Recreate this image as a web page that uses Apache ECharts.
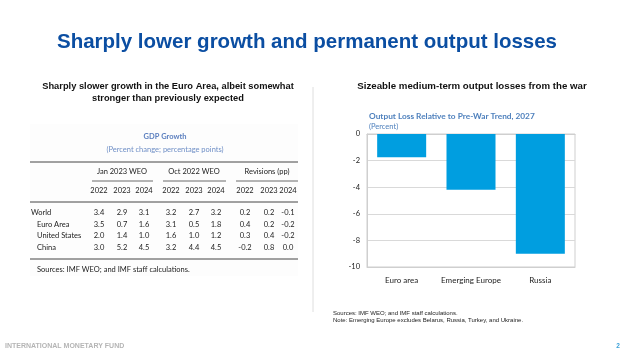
<!DOCTYPE html>
<html>
<head>
<meta charset="utf-8">
<script src="https://cdn.jsdelivr.net/npm/echarts@6/dist/echarts.min.js"></script>
<style>
  html, body { margin: 0; padding: 0; background: #fff; }
  #chart { width: 624px; height: 351px; }
</style>
</head>
<body>
<div id="chart"></div>
<script>
// bar chart data
const categories = ['Euro area', 'Emerging Europe', 'Russia'];
const outputLoss = [-1.75, -4.2, -9.0];

// GDP growth table
const tableGroups = ['Jan 2023 WEO', 'Oct 2022 WEO', 'Revisions (pp)'];
const tableYears = ['2022', '2023', '2024'];
const tableRows = ['World', 'Euro Area', 'United States', 'China'];
const janWeo = [[3.4, 2.9, 3.1], [3.5, 0.7, 1.6], [2.0, 1.4, 1.0], [3.0, 5.2, 4.5]];
const octWeo = [[3.2, 2.7, 3.2], [3.1, 0.5, 1.8], [1.6, 1.0, 1.2], [3.2, 4.4, 4.5]];
const revisions = [[0.2, 0.2, -0.1], [0.4, 0.2, -0.2], [0.3, 0.4, -0.2], [-0.2, 0.8, 0.0]];

const chart = echarts.init(document.getElementById('chart'));

const tableFont = 'Lato, "Open Sans", sans-serif';
const arial = '"Liberation Sans", Arial, sans-serif';
const colX = [99, 122, 144, 171, 194, 216, 245, 269, 288];
const groupX = [122, 194, 267];
const groupLine = [[92, 153], [163, 226], [236, 298]];
const rowY = [213, 224.5, 236, 247.5];

const txt = (x, y, text, style) => ({
  type: 'text', x: x, y: y, silent: true,
  style: Object.assign({ text: text, fontFamily: tableFont, fontSize: 7.5, fill: '#222',
    align: 'center', verticalAlign: 'middle' }, style || {})
});
const hline = (x1, x2, y, w) => ({
  type: 'line', silent: true,
  shape: { x1: x1, y1: y, x2: x2, y2: y },
  style: { stroke: '#444', lineWidth: w || 1 }
});

const g = [];
// table background
g.push({ type: 'rect', silent: true, shape: { x: 30, y: 124, width: 268, height: 152 },
  style: { fill: '#fdfdfd' } });
g.push(txt(165, 137, 'GDP Growth', { fill: '#5b7fbf', fontWeight: 'bold' }));
g.push(txt(165, 149.5, '(Percent change; percentage points)', { fill: '#6f8fc6' }));
g.push(hline(30, 298, 162, 1));
tableGroups.forEach((t, i) => {
  g.push(txt(groupX[i], 172, t));
  g.push(hline(groupLine[i][0], groupLine[i][1], 181, 0.8));
  tableYears.forEach((y, j) => g.push(txt(colX[i * 3 + j], 191, y)));
});
g.push(hline(30, 298, 202, 1));
tableRows.forEach((r, i) => {
  g.push(txt(i === 0 ? 31 : 37, rowY[i], r, { align: 'left' }));
  [janWeo, octWeo, revisions].forEach((arr, k) => {
    arr[i].forEach((v, j) => g.push(txt(colX[k * 3 + j], rowY[i], v.toFixed(1))));
  });
});
g.push(hline(30, 298, 259, 1));
g.push(txt(37, 270, 'Sources: IMF WEO; and IMF staff calculations.', { align: 'left' }));

// separator
g.push({ type: 'line', silent: true, shape: { x1: 313, y1: 87, x2: 313, y2: 312 },
  style: { stroke: '#dedede', lineWidth: 1 } });

// headings
g.push({ type: 'text', x: 307, y: 42, silent: true,
  style: { text: 'Sharply lower growth and permanent output losses', fontFamily: arial,
    fontSize: 20.5, fontWeight: 'bold', fill: '#0b4ea2', align: 'center', verticalAlign: 'middle' } });
g.push({ type: 'text', x: 168, y: 92, silent: true,
  style: { text: 'Sharply slower growth in the Euro Area, albeit somewhat\nstronger than previously expected',
    fontFamily: arial, fontSize: 9.3, fontWeight: 'bold', fill: '#111',
    align: 'center', verticalAlign: 'middle', lineHeight: 12 } });
g.push({ type: 'text', x: 472, y: 86, silent: true,
  style: { text: 'Sizeable medium-term output losses from the war',
    fontFamily: arial, fontSize: 9.7, fontWeight: 'bold', fill: '#111',
    align: 'center', verticalAlign: 'middle' } });

// chart title
g.push({ type: 'text', x: 369, y: 116, silent: true,
  style: { text: 'Output Loss Relative to Pre-War Trend, 2027', fontFamily: tableFont,
    fontSize: 8.3, fontWeight: 'bold', fill: '#4f81bd', verticalAlign: 'middle' } });
g.push({ type: 'text', x: 369, y: 127, silent: true,
  style: { text: '(Percent)', fontFamily: tableFont, fontSize: 7.5, fill: '#4f81bd', verticalAlign: 'middle' } });

// footnotes
g.push({ type: 'text', x: 333, y: 317, silent: true,
  style: { text: 'Sources: IMF WEO; and IMF staff calculations.\nNote: Emerging Europe excludes Belarus, Russia, Turkey, and Ukraine.',
    fontFamily: arial, fontSize: 6, fill: '#222', verticalAlign: 'middle', lineHeight: 7.5 } });
g.push({ type: 'text', x: 5, y: 346, silent: true,
  style: { text: 'INTERNATIONAL MONETARY FUND', fontFamily: arial,
    fontSize: 7, fontWeight: 'bold', fill: '#b5b5b5', verticalAlign: 'middle' } });
g.push({ type: 'text', x: 618, y: 346, silent: true,
  style: { text: '2', fontFamily: arial,
    fontSize: 6.5, fontWeight: 'bold', fill: '#3aa0d8', align: 'center', verticalAlign: 'middle' } });

chart.setOption({
  animation: false,
  grid: { left: 367, top: 134, width: 208, height: 133, show: true, borderColor: '#cfcfcf', borderWidth: 1 },
  xAxis: [
    {
      type: 'category', data: categories, position: 'bottom',
      axisLine: { onZero: false, lineStyle: { color: '#cfcfcf' } },
      axisTick: { show: false },
      axisLabel: { interval: 0, hideOverlap: false, margin: 9, fontSize: 8, color: '#222', fontFamily: tableFont }
    },
    {
      type: 'category', data: categories, position: 'top',
      axisLine: { onZero: false, lineStyle: { color: '#cfcfcf' } },
      axisTick: { inside: true, length: 3, lineStyle: { color: '#bbb' } },
      axisLabel: { show: false }
    }
  ],
  yAxis: {
    type: 'value', min: -10, max: 0, interval: 2,
    axisLine: { show: true, lineStyle: { color: '#cfcfcf' } },
    axisTick: { show: false },
    axisLabel: { margin: 7, fontSize: 7.5, color: '#222', fontFamily: tableFont },
    splitLine: { lineStyle: { color: '#d9d9d9' } }
  },
  series: [{
    type: 'bar', data: outputLoss, xAxisIndex: 0,
    barWidth: 49,
    itemStyle: { color: '#009ee0' }
  }],
  graphic: g
});
</script>
</body>
</html>
